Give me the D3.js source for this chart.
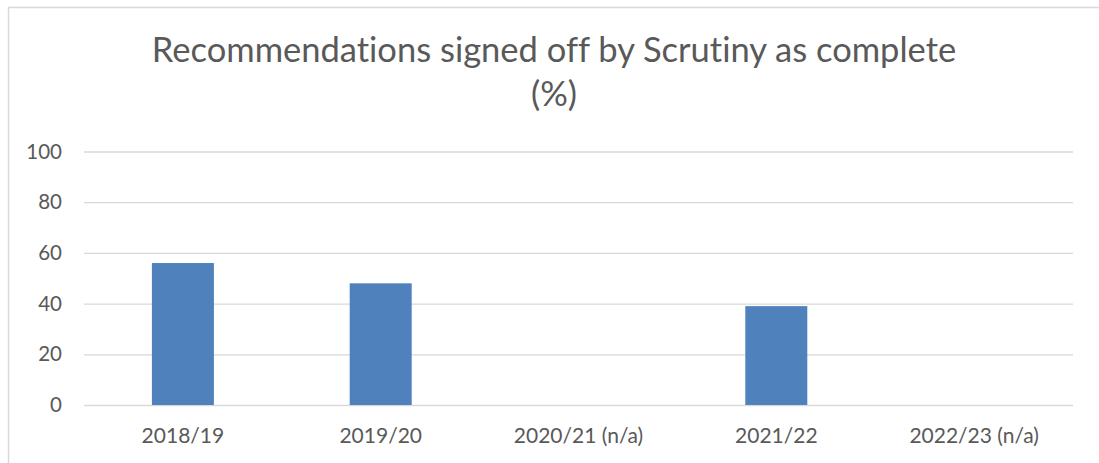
<!DOCTYPE html>
<html>
<head>
<style>
  body { margin: 0; background: white; font-family: Lato, "Open Sans", sans-serif; }
  svg { display: block; }
  text { font-variant-ligatures: none; }
</style>
<script src="https://cdn.jsdelivr.net/npm/d3@7"></script>
</head>
<body>
<svg id="chart"></svg>
<script>
// data
let categories = ["2018/19", "2019/20", "2020/21 (n/a)", "2021/22", "2022/23 (n/a)"];
let values = [56, 48, null, 39, null];
let yTicks = [0, 20, 40, 60, 80, 100];
let titleLines = ["Recommendations signed off by Scrutiny as complete", "(%)"];

let width = 1099, height = 463;
let margin = { top: 151.5, bottom: 58, left: 84, right: 26 };
let bodyWidth = width - margin.left - margin.right;
let bodyHeight = height - margin.top - margin.bottom;
let textColor = "#595959";

let svg = d3.select("#chart").attr("width", width).attr("height", height);

// outer chart border (box runs past the picture right and bottom)
svg.append("rect")
  .attr("x", 8.5).attr("y", 7.5)
  .attr("width", 1200).attr("height", 600)
  .attr("fill", "none").attr("stroke", "#d9d9d9").attr("stroke-width", 1.5);

let xScale = d3.scaleBand().domain(categories).range([0, bodyWidth]).padding(0);
let yScale = d3.scaleLinear().domain([0, 100]).range([bodyHeight, 0]);

let body = svg.append("g").attr("transform", `translate(${margin.left},${margin.top})`);

// gridlines
body.append("g")
  .call(d3.axisLeft(yScale).tickValues(yTicks).tickSize(-bodyWidth).tickFormat(""))
  .call(g => g.select(".domain").remove())
  .call(g => g.selectAll("line").attr("stroke", "#d9d9d9").attr("stroke-width", 1.3));

// bars (excel gap width ~219%)
let barW = xScale.bandwidth() / 3.19;
body.selectAll(".bar")
  .data(categories.map((c, i) => ({ c, v: values[i] })).filter(d => d.v != null))
  .enter().append("rect")
  .attr("class", "bar")
  .attr("x", d => xScale(d.c) + (xScale.bandwidth() - barW) / 2)
  .attr("y", d => yScale(d.v))
  .attr("width", barW)
  .attr("height", d => bodyHeight - yScale(d.v))
  .attr("fill", "#4f81bd");

// y axis labels
body.append("g")
  .call(d3.axisLeft(yScale).tickValues(yTicks).tickSize(0).tickPadding(22))
  .call(g => g.select(".domain").remove())
  .call(g => g.selectAll("text")
    .attr("fill", textColor)
    .style("font-family", "Lato, sans-serif")
    .style("font-size", "20.5px"));

// x axis labels
body.append("g")
  .attr("transform", `translate(0,${bodyHeight})`)
  .call(d3.axisBottom(xScale).tickSize(0).tickPadding(23))
  .call(g => g.select(".domain").remove())
  .call(g => g.selectAll("text")
    .attr("fill", textColor)
    .style("font-family", "Lato, sans-serif")
    .style("font-size", "21px"));

// title
svg.append("g").selectAll("text")
  .data(titleLines)
  .enter().append("text")
  .attr("x", 554)
  .attr("y", (d, i) => 62 + i * 44)
  .attr("text-anchor", "middle")
  .attr("fill", textColor)
  .style("font-family", "Lato, sans-serif")
  .style("font-size", "34.5px")
  .text(d => d);
</script>
</body>
</html>
